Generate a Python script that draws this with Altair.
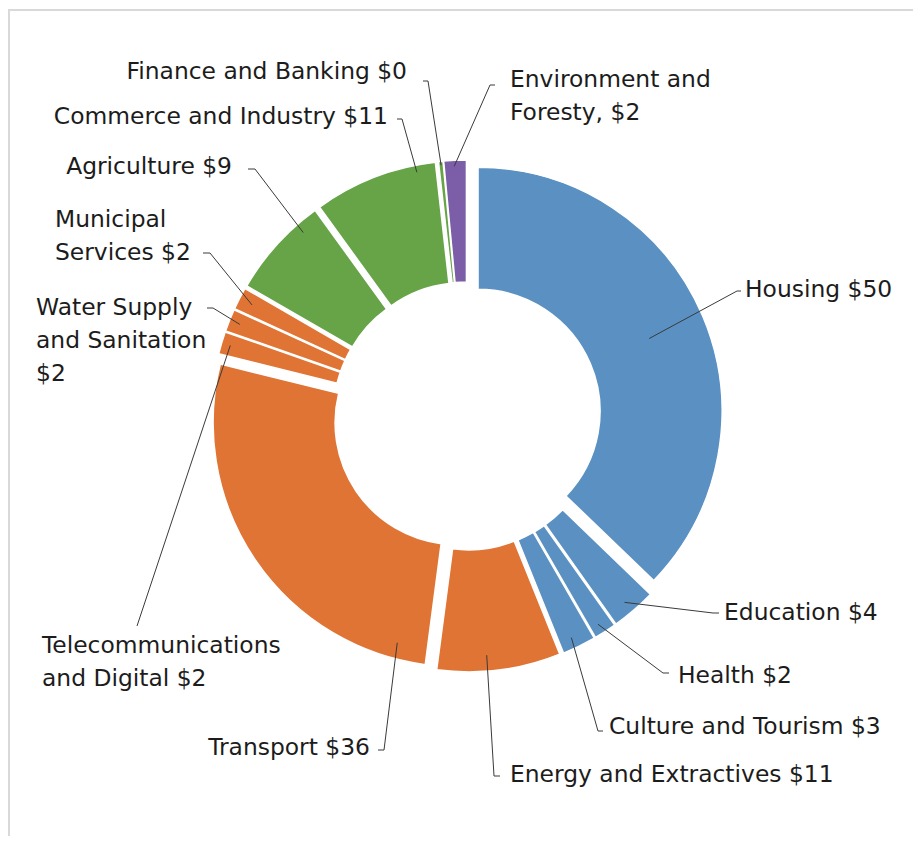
import math
import altair as alt
import pandas as pd

# ---------------- data ----------------
categories = [
    "Housing", "Education", "Health", "Culture and Tourism",
    "Energy and Extractives", "Transport", "Telecommunications and Digital",
    "Water Supply and Sanitation", "Municipal Services", "Agriculture",
    "Commerce and Industry", "Finance and Banking", "Environment and Forestry",
]
values = [50, 4, 2, 3, 11, 36, 2, 2, 2, 9, 11, 0.4, 2]
sector_group = ["blue", "blue", "blue", "blue",
                "orange", "orange", "orange", "orange", "orange",
                "green", "green", "green", "purple"]
label_names = [
    "Housing", "Education", "Health", "Culture and Tourism",
    "Energy and Extractives", "Transport", "Telecommunications\nand Digital",
    "Water Supply\nand Sanitation\n", "Municipal\nServices", "Agriculture",
    "Commerce and Industry", "Finance and Banking", "Environment and\nForesty,",
]

# ---------------- style / layout ----------------
PALETTE = {"blue": "#5A91C2", "orange": "#E07434", "green": "#67A447", "purple": "#7B5EA7"}
M = 8                      # page margin (layout coords below are page pixels)
CX, CY = 467 - M, 416 - M  # donut centre in chart pixels
R_OUT, R_IN = 244, 122
EXPLODE = 12
FONT = "DejaVu Sans"
FONT_SIZE = 23.4
LINE_H = 33

# label anchor (x, first-line y), alignment, leader elbow & end, anchor fraction/radius on slice
LAYOUT = {
    "Housing": dict(x=745, y=290, align="left", elbow=(737, 291), end=(741, 291), f=0.5, rho=186),
    "Education": dict(x=724, y=613, align="left", elbow=(713, 613), end=(719, 613), f=0.55, rho=232),
    "Health": dict(x=678, y=676, align="left", elbow=(663, 673), end=(669, 673), f=0.6, rho=234),
    "Culture and Tourism": dict(x=609, y=727, align="left", elbow=(598, 731), end=(603, 731), f=0.6, rho=233),
    "Energy and Extractives": dict(x=510, y=775, align="left", elbow=(494, 776), end=(500, 776), f=0.59, rho=228),
    "Transport": dict(x=370, y=748, align="right", elbow=(384, 750), end=(378, 750), f=0.08, rho=228),
    "Telecommunications and Digital": dict(x=42, y=646, align="left", elbow=(137, 626), end=(137, 626), f=0.5, rho=235),
    "Water Supply and Sanitation": dict(x=36, y=308, align="left", elbow=(213, 308), end=(207, 308), f=0.5, rho=233),
    "Municipal Services": dict(x=55, y=220, align="left", elbow=(210, 253), end=(203, 253), f=0.5, rho=230),
    "Agriculture": dict(x=232, y=167, align="right", elbow=(255, 169), end=(248, 169), f=0.77, rho=234),
    "Commerce and Industry": dict(x=388, y=117, align="right", elbow=(402, 119), end=(397, 119), f=0.84, rho=237),
    "Finance and Banking": dict(x=407, y=72, align="right", elbow=(428, 81), end=(423, 81), f=0.5, rho=240),
    "Environment and Forestry": dict(x=510, y=80, align="left", elbow=(490, 85), end=(495, 85), f=0.45, rho=238),
}

W, H = 905, 828

# ---------------- tables ----------------
df = pd.DataFrame({
    "category": categories,
    "value": values,
    "order": list(range(len(categories))),
})
slice_colors = [PALETTE[g] for g in sector_group]

total = sum(values)
lead_rows, text_rows = [], []
cum = 0.0
for c, v, name in zip(categories, values, label_names):
    a0 = cum / total * 2 * math.pi
    cum += v
    a1 = cum / total * 2 * math.pi
    mid = (a0 + a1) / 2
    L = LAYOUT[c]
    a = a0 + L["f"] * (a1 - a0)
    px = CX + EXPLODE * math.sin(mid) + L["rho"] * math.sin(a)
    py = CY - EXPLODE * math.cos(mid) - L["rho"] * math.cos(a)
    lead_rows.append({"category": c, "seq": 0, "x": px, "y": py})
    lead_rows.append({"category": c, "seq": 1, "x": L["elbow"][0] - M, "y": L["elbow"][1] - M})
    lead_rows.append({"category": c, "seq": 2, "x": L["end"][0] - M, "y": L["end"][1] - M})
    sep = "" if name.endswith("\n") else " "
    full = f"{name}{sep}${v:.0f}"
    for k, line in enumerate(full.split("\n")):
        text_rows.append({"category": c, "text": line, "align": L["align"],
                          "x": L["x"] - M, "y": L["y"] - M + k * LINE_H})

leaders = pd.DataFrame(lead_rows)
texts = pd.DataFrame(text_rows)

# ---------------- chart ----------------
slices = (
    alt.Chart(df)
    .transform_joinaggregate(total="sum(value)")
    .transform_window(cum="sum(value)", sort=[alt.SortField("order")], frame=[None, 0])
    .transform_calculate(a0="(datum.cum - datum.value) / datum.total * 2 * PI")
    .transform_calculate(a1="datum.cum / datum.total * 2 * PI")
    .transform_calculate(mid="(datum.a0 + datum.a1) / 2")
    .transform_calculate(cx=f"{CX} + {EXPLODE} * sin(datum.mid)")
    .transform_calculate(cy=f"{CY} - {EXPLODE} * cos(datum.mid)")
    .mark_arc(innerRadius=R_IN, outerRadius=R_OUT, stroke="white", strokeWidth=1.5)
    .encode(
        theta=alt.Theta("a0:Q", scale=None, stack=None),
        theta2="a1:Q",
        x=alt.X("cx:Q", scale=None),
        y=alt.Y("cy:Q", scale=None),
        color=alt.Color("category:N", scale=alt.Scale(domain=categories, range=slice_colors), legend=None),
        tooltip=["category:N", "value:Q"],
    )
)

lines = (
    alt.Chart(leaders)
    .mark_line(color="#3a3a3a", strokeWidth=1)
    .encode(
        x=alt.X("x:Q", scale=None),
        y=alt.Y("y:Q", scale=None),
        detail="category:N",
        order="seq:Q",
    )
)

def text_layer(align):
    return (
        alt.Chart(texts)
        .transform_filter(alt.datum.align == align)
        .mark_text(align=align, baseline="middle", font=FONT, fontSize=FONT_SIZE, color="#1c1c1c")
        .encode(x=alt.X("x:Q", scale=None), y=alt.Y("y:Q", scale=None), text="text:N")
    )

border = alt.Chart(pd.DataFrame({"k": [0]})).mark_rule(color="#d9d9d9", strokeWidth=2)
border_top = border.encode(x=alt.value(0), x2=alt.value(W), y=alt.value(2), y2=alt.value(2))
border_left = border.encode(x=alt.value(1), x2=alt.value(1), y=alt.value(2), y2=alt.value(H))

chart = (
    alt.layer(border_top, border_left, slices, lines, text_layer("left"), text_layer("right"))
    .properties(width=W, height=H, autosize="none", padding=0, background="white")
    .configure_view(strokeWidth=0)
)

chart.save("out.html", embed_options={"renderer": "svg", "actions": False})
